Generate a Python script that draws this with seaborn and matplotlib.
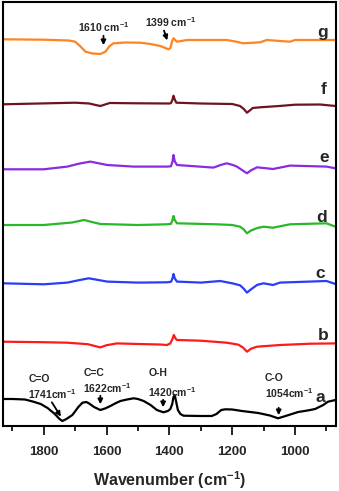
import numpy as np
import pandas as pd
import matplotlib
matplotlib.use("Agg")
import matplotlib.pyplot as plt
import seaborn as sns
from matplotlib.ticker import MultipleLocator

# spectra: wavenumber (cm-1) and deviation from each trace's own baseline (a.u.)
wn_a = [1930, 1900, 1860, 1833, 1810, 1788, 1765, 1750, 1741, 1728, 1709, 1690, 1677, 1665,
        1658, 1640, 1620, 1605, 1588, 1570, 1556, 1535, 1514, 1500, 1482, 1460, 1440, 1419,
        1405, 1397, 1391, 1387, 1383, 1379, 1373, 1365, 1355, 1300, 1265, 1250, 1235, 1222,
        1200, 1169, 1117, 1080, 1054, 1030, 990, 960, 936, 910, 895, 871]
val_a = [0, 0, -0.5, -2.7, -5, -9, -15, -20, -22, -20, -16, -8, -3.7, -3,
         -4, -8, -11, -9.5, -7, -4, -2, -0.5, 0.7, 0, -2, -6, -11, -13.3,
         -12, -10, -5, 2, 4, -2, -11, -15, -16.7, -17, -17, -15, -11, -10.3,
         -10.5, -12, -14, -16.5, -19.3, -17, -13, -11.5, -10, -6, -2.7, -1]

wn_b = [1930, 1800, 1725, 1660, 1635, 1620, 1600, 1567, 1500, 1430, 1408, 1397, 1390, 1386,
        1380, 1376, 1300, 1217, 1180, 1165, 1153, 1140, 1121, 1048, 950, 871]
val_b = [1, 0.5, 0, -1.5, -3.5, -4.7, -2.5, -0.7, -1.3, -1.8, -2.3, -0.7, 4, 7.7,
         4, 2.7, 2, 0, -2, -5, -9, -6, -4, -2.3, -1, -0.7]

wn_c = [1930, 1800, 1725, 1690, 1657, 1630, 1598, 1500, 1408, 1395, 1390, 1387, 1383, 1376,
        1300, 1238, 1200, 1175, 1163, 1153, 1140, 1120, 1100, 1070, 1048, 900, 871]
val_c = [0, -1, 0.7, 3, 5, 3.5, 1.7, 0.7, 1, 1.5, 5, 9.3, 5, 1.7,
         0.7, 2.3, 0, -2, -5.5, -9.3, -6, -1.5, 0, -1.7, 0.7, 2.3, -0.7]

wn_d = [1930, 1800, 1710, 1672, 1640, 1620, 1500, 1408, 1395, 1390, 1387, 1383, 1376, 1250,
        1200, 1175, 1163, 1153, 1140, 1120, 1100, 1070, 1016, 900, 871]
val_d = [0, 0, 2.5, 5, 2.5, 1, 0, 0.7, 1.2, 5, 9, 5, 1.7, 0.7,
         0, -1.7, -4.5, -8.3, -5.5, -3, -1.7, -2.7, 0.7, 1.7, -1.7]

wn_e = [1930, 1800, 1725, 1690, 1652, 1625, 1598, 1514, 1408, 1395, 1390, 1387, 1383, 1376,
        1260, 1235, 1217, 1195, 1185, 1165, 1153, 1140, 1121, 1070, 1016, 900, 871]
val_e = [-1, -1, 1.7, 4.5, 6.7, 5, 3.3, 1.7, 1.7, 2, 7, 13.3, 7, 3.3,
         0.7, 3.5, 5, 3, 1.7, -2.5, -5, -2, 1, -0.7, 2.7, 1.7, 0]

wn_f = [1930, 1700, 1655, 1635, 1620, 1600, 1590, 1500, 1400, 1395, 1390, 1387, 1383, 1378,
        1300, 1200, 1175, 1163, 1153, 1140, 1135, 1111, 1050, 1000, 920, 871]
val_f = [0.7, 2.3, 1.5, 0, -1, 1, 2, 1.7, 1.5, 2, 5.5, 9.3, 5.5, 2.3,
         1.5, 1, -1, -4, -7.7, -4.5, -3, -2.3, -1, 0.3, 0.5, -1]

wn_g = [1930, 1800, 1720, 1700, 1685, 1667, 1645, 1620, 1604, 1590, 1578, 1540, 1493, 1460,
        1429, 1403, 1397, 1391, 1387, 1376, 1344, 1217, 1190, 1165, 1111, 1090, 1016, 1000, 871]
val_g = [0.7, 0.3, -0.5, -1.7, -6, -11.7, -13.5, -14, -11.7, -6, -3.3, -2.5, -2.7, -4,
         -6, -9.3, -8, -0.7, 1.7, -1.7, 0, 0, -1.5, -3.3, -2.3, 0, -1.7, 0, 0]

samples = ["a", "b", "c", "d", "e", "f", "g"]
offsets = [27, 83.3, 142.7, 201, 257.7, 321, 386]
colors = ["#000000", "#ff1a1a", "#2a3cf5", "#28b828", "#8a2be2", "#6e1420", "#ff8420"]

spectra = {"a": (wn_a, val_a), "b": (wn_b, val_b), "c": (wn_c, val_c), "d": (wn_d, val_d),
           "e": (wn_e, val_e), "f": (wn_f, val_f), "g": (wn_g, val_g)}

rows = []
for s, off in zip(samples, offsets):
    w, v = spectra[s]
    for wi, vi in zip(w, v):
        rows.append({"wn": wi, "y": vi + off, "sample": s})
df = pd.DataFrame(rows)

sns.set_style("ticks")
plt.rcParams["font.family"] = ["Liberation Sans", "DejaVu Sans"]
plt.rcParams["font.weight"] = "bold"
plt.rcParams["mathtext.fontset"] = "custom"
plt.rcParams["mathtext.rm"] = "Liberation Sans:bold"
plt.rcParams["mathtext.bf"] = "Liberation Sans:bold"

fig = plt.figure(figsize=(3.39, 4.91), dpi=100)
ax = fig.add_axes([3 / 339, 1 - 426 / 491, 332.5 / 339, 424 / 491])

sns.lineplot(data=df, x="wn", y="y", hue="sample", palette=dict(zip(samples, colors)),
             sort=False, estimator=None, legend=False, linewidth=1.6, ax=ax)

ax.set_xlim(1930, 871)
ax.set_ylim(0, 424)
ax.set_yticks([])
ax.set_ylabel("")
ax.xaxis.set_major_locator(MultipleLocator(200))
ax.xaxis.set_minor_locator(MultipleLocator(100))
ax.tick_params(axis="x", which="major", direction="out", length=6.5, width=1.4,
               labelsize=9.5, pad=8)
ax.tick_params(axis="x", which="minor", direction="out", length=3.5, width=1.4)
for lab in ax.get_xticklabels():
    lab.set_fontweight("bold")
for sp in ax.spines.values():
    sp.set_linewidth(1.5)
    sp.set_color("black")
ax.set_xlabel(r"Wavenumber (cm$^{-1}$)", fontsize=11.5, fontweight="bold", labelpad=8)

# trace letters
letter_pos = {"a": (920, 29), "b": (911, 91), "c": (920, 152), "d": (914, 209),
              "e": (908, 269), "f": (908, 336), "g": (911, 394)}
for s in samples:
    x, y = letter_pos[s]
    ax.text(x, y, s, fontsize=12.5, fontweight="bold", ha="center", va="center")

arrow = dict(arrowstyle="-|>", color="black", lw=1.3, mutation_scale=7)
fs = 7.5

# bands in spectrum a
ax.text(1849, 47, "C=O", fontsize=fs, ha="left", va="center")
ax.text(1849, 32, r"1741cm$^{-1}$", fontsize=fs, ha="left", va="center")
ax.annotate("", xy=(1741, 7), xytext=(1779, 26), arrowprops=arrow)

ax.text(1674, 53, "C=C", fontsize=fs, ha="left", va="center")
ax.text(1674, 38, r"1622cm$^{-1}$", fontsize=fs, ha="left", va="center")
ax.annotate("", xy=(1620, 19), xytext=(1620, 33), arrowprops=arrow)

ax.text(1467, 53, "O-H", fontsize=fs, ha="left", va="center")
ax.text(1467, 34, r"1420cm$^{-1}$", fontsize=fs, ha="left", va="center")
ax.annotate("", xy=(1420, 16), xytext=(1420, 29), arrowprops=arrow)

ax.text(1096, 48, "C-O", fontsize=fs, ha="left", va="center")
ax.text(1096, 33, r"1054cm$^{-1}$", fontsize=fs, ha="left", va="center")
ax.annotate("", xy=(1052, 8), xytext=(1052, 21), arrowprops=arrow)

# bands in spectrum g
ax.text(1690, 399, r"1610 cm$^{-1}$", fontsize=fs, ha="left", va="center")
ax.annotate("", xy=(1610, 378), xytext=(1610, 393), arrowprops=arrow)
ax.text(1477, 404, r"1399 cm$^{-1}$", fontsize=fs, ha="left", va="center")
ax.annotate("", xy=(1404, 383), xytext=(1420, 398), arrowprops=arrow)

fig.savefig("out.png", dpi=100)
